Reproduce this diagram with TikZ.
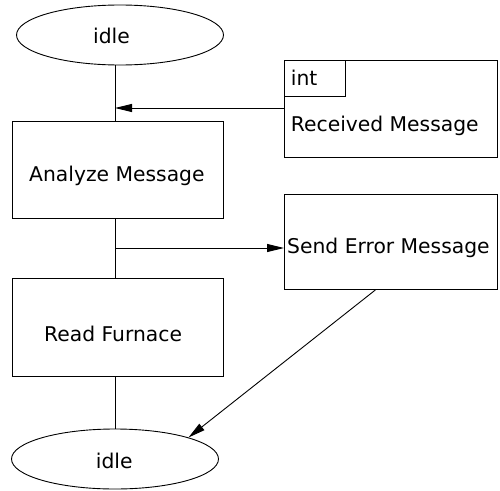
\documentclass[tikz,border=0pt]{standalone}
\usepackage{fontspec}
\setmainfont{DejaVu Sans}
\usetikzlibrary{shapes.geometric,arrows.meta}
\begin{document}
\begin{tikzpicture}[x=1pt,y=-1pt,
  lbl/.style={anchor=base west,inner sep=0pt,font=\fontsize{20.3}{24}\selectfont},
  statebox/.style={draw,rectangle,anchor=north west,inner sep=0pt,line width=0.9pt},
  terminal/.style={draw,ellipse,inner sep=0pt,line width=0.9pt,minimum width=207pt,minimum height=60pt},
  conn/.style={line width=0.9pt},
  arr/.style={conn,-{Triangle[length=17pt,width=8pt]}}
]
\useasboundingbox (0,0) rectangle (500,490);

% states
\node[terminal] (idle1) at (120,35) {};
\node[terminal] (idle2) at (115,459) {};
\node[statebox,minimum width=211.6pt,minimum height=97pt] (analyze) at (11.7,120.7) {};
\node[statebox,minimum width=211.3pt,minimum height=97.7pt] (read) at (11.7,278) {};
\node[statebox,minimum width=213pt,minimum height=96.7pt] (recv) at (284,60) {};
\node[statebox,minimum width=61pt,minimum height=36pt] (intbox) at (recv.north west) {};
\node[statebox,minimum width=213pt,minimum height=95pt] (senderr) at (284,194) {};

% texts
\node[lbl] (t-idle1) at (93,43) {idle};
\node[lbl] (t-idle2) at (95.7,468) {idle};
\node[lbl] (t-analyze) at (29,181.7) {Analyze Message};
\node[lbl] (t-read) at (44,341.7) {Read Furnace};
\node[lbl] (t-int) at (290.7,85.7) {int};
\node[lbl] (t-recv) at (290.7,131.7) {Received Message};
\node[lbl] (t-senderr) at (287,253) {Send Error Message};

% flow
\coordinate (m1) at (115,108);
\coordinate (m2) at (115,248);
\draw[conn] (idle1.south -| m1) -- (analyze.north -| m1);
\draw[arr] (recv.west |- m1) -- (m1);
\draw[conn] (analyze.south -| m1) -- (read.north -| m1);
\draw[arr] (m2) -- (m2 -| senderr.west);
\draw[conn] (read.south -| m1) -- (idle2.north -| m1);
\draw[arr] ([xshift=-15.5pt]senderr.south) -- (idle2.north east);
\end{tikzpicture}
\end{document}
